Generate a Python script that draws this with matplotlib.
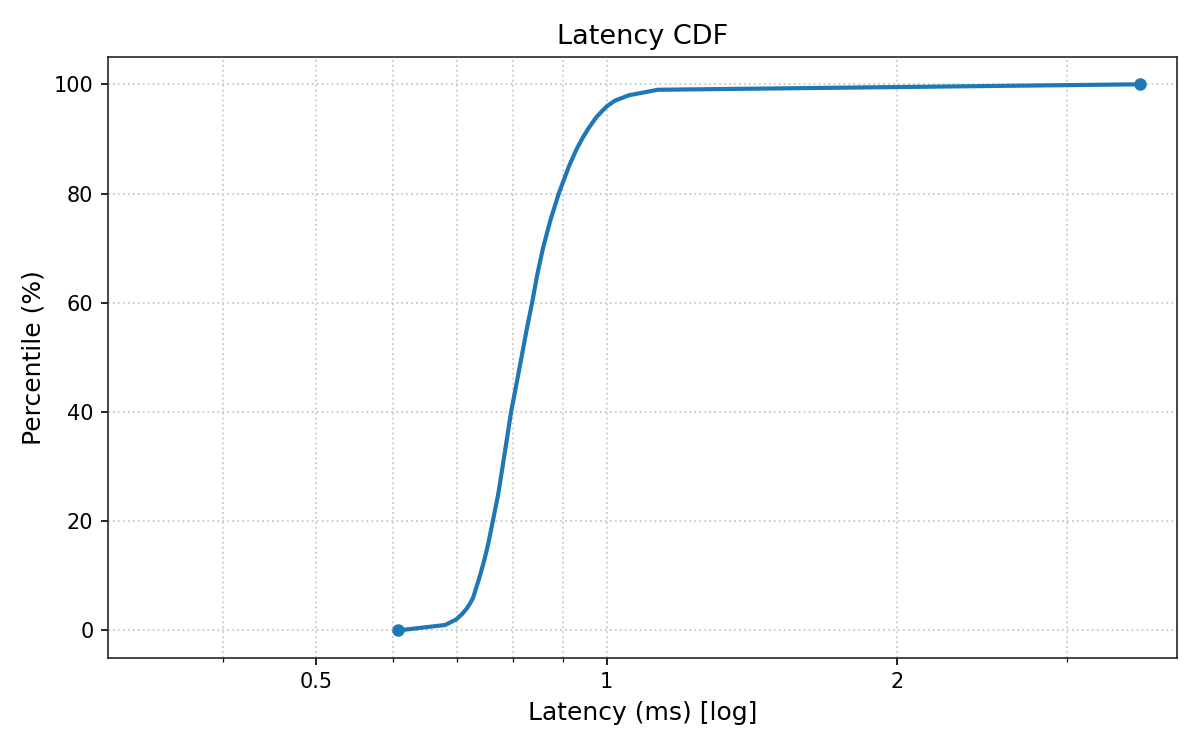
import numpy as np
import matplotlib
matplotlib.use("Agg")
import matplotlib.pyplot as plt
from matplotlib.ticker import ScalarFormatter, NullFormatter, FixedLocator, LogLocator

# percentile -> latency (ms)
percentiles = [0, 1, 2, 3, 4, 5, 6, 8, 10, 13, 16, 20, 25, 30, 35, 40, 45, 50,
               55, 60, 65, 70, 75, 80, 85, 88, 90, 92, 94, 95, 96, 97, 98, 99, 100]
latency_ms = [0.608, 0.680, 0.698, 0.708, 0.716, 0.722, 0.727, 0.733, 0.739,
              0.747, 0.754, 0.762, 0.772, 0.780, 0.788, 0.796, 0.806, 0.816,
              0.826, 0.837, 0.847, 0.859, 0.874, 0.892, 0.914, 0.930, 0.943,
              0.958, 0.976, 0.988, 1.001, 1.020, 1.055, 1.13, 3.575]
major_ticks = [0.5, 1, 2]
tick_labels = ["0.5", "1", "2"]

fig, ax = plt.subplots(figsize=(8, 5), dpi=150)
ax.plot(latency_ms, percentiles, color="#1f77b4", linewidth=2,
        marker="o", markersize=5, markevery=[0, len(latency_ms) - 1])
ax.set_xscale("log")
ax.set_xlim(left=latency_ms[0] * 0.5)

ax.xaxis.set_major_locator(FixedLocator(major_ticks))
ax.set_xticklabels(tick_labels)
ax.xaxis.set_minor_locator(LogLocator(base=10, subs=np.arange(2, 10)))
ax.xaxis.set_minor_formatter(NullFormatter())

ax.grid(True, which="both", linestyle=":", color="#cccccc", linewidth=0.9)
ax.set_title("Latency CDF", fontsize=13)
ax.set_xlabel("Latency (ms) [log]", fontsize=12)
ax.set_ylabel("Percentile (%)", fontsize=12)
for s in ax.spines.values():
    s.set_color("#262626")

fig.subplots_adjust(left=0.09, right=0.981, top=0.924, bottom=0.123)
fig.savefig("out.png")
